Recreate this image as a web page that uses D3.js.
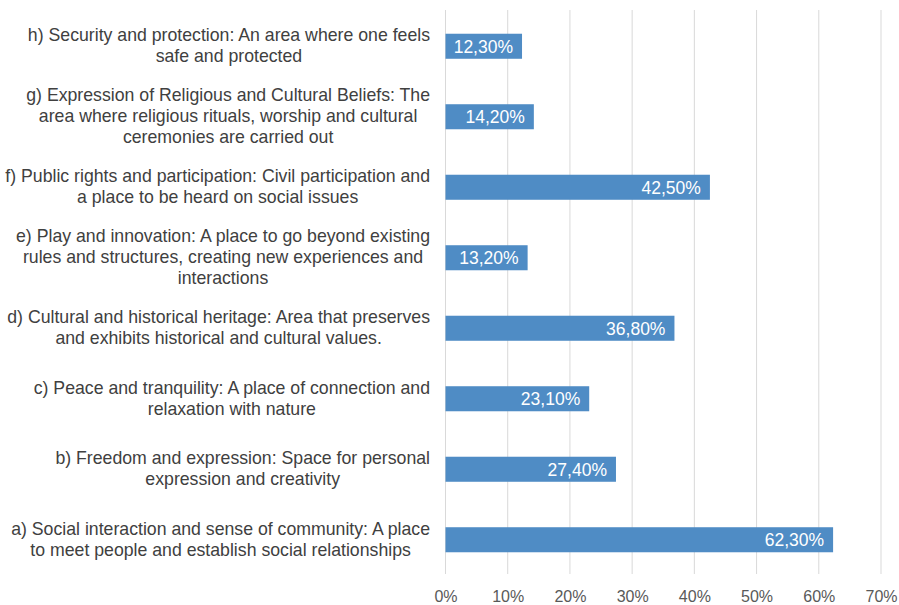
<!DOCTYPE html>
<html>
<head>
<meta charset="utf-8">
<script src="https://cdn.jsdelivr.net/npm/d3@7"></script>
<style>
  html, body { margin: 0; padding: 0; background: #ffffff; }
  svg { display: block; font-family: "Liberation Sans", Arial, sans-serif; }
</style>
</head>
<body>
<svg id="chart" width="899" height="605"></svg>
<script>
// Category labels, top to bottom, already broken into lines
const categories = [
  ["h) Security and protection: An area where one feels", "safe and protected"],
  ["g) Expression of Religious and Cultural Beliefs: The", "area where religious rituals, worship and cultural", "ceremonies are carried out"],
  ["f) Public rights and participation: Civil participation and", "a place to be heard on social issues"],
  ["e) Play and innovation: A place to go beyond existing", "rules and structures, creating new experiences and", "interactions"],
  ["d) Cultural and historical heritage: Area that preserves", "and exhibits historical and cultural values."],
  ["c) Peace and tranquility: A place of connection and", "relaxation with nature"],
  ["b) Freedom and expression: Space for personal", "expression and creativity"],
  ["a) Social interaction and sense of community: A place", "to meet people and establish social relationships"]
];
// Share of respondents (%)
const values = [12.3, 14.2, 42.5, 13.2, 36.8, 23.1, 27.4, 62.3];
const xTicks = [0, 10, 20, 30, 40, 50, 60, 70];

const svg = d3.select("#chart");
const margin = { left: 445.5, right: 18, top: 11, bottom: 30 };
const W = 899, H = 605;

const x = d3.scaleLinear().domain([0, 70]).range([margin.left, W - margin.right]);
const y = d3.scaleBand().domain(d3.range(categories.length))
  .range([margin.top, H - margin.bottom]).paddingInner(0.645).paddingOuter(0.3225);

const fmt = v => v.toFixed(2).replace(".", ",") + "%";

// Vertical gridlines
svg.append("g").selectAll("line").data(xTicks).join("line")
  .attr("x1", d => x(d)).attr("x2", d => x(d))
  .attr("y1", 10).attr("y2", 574)
  .attr("stroke", "#d9d9d9").attr("stroke-width", 1);

// Tick labels along the bottom
const xAxis = d3.axisBottom(x).tickValues(xTicks).tickSize(0).tickPadding(0).tickFormat(d => d + "%");
const ax = svg.append("g").attr("transform", `translate(0,${H - 14.5})`).call(xAxis);
ax.select(".domain").remove();
ax.selectAll("text").attr("font-size", 16).attr("fill", "#595959")
  .attr("font-family", "Liberation Sans, Arial, sans-serif").attr("dy", "0.71em");

// Bars
svg.append("g").selectAll("rect").data(values).join("rect")
  .attr("x", x(0)).attr("y", (d, i) => y(i))
  .attr("width", d => x(d) - x(0)).attr("height", y.bandwidth())
  .attr("fill", "#4f8cc5");

// Value labels inside the bar end
svg.append("g").selectAll("text").data(values).join("text")
  .attr("x", d => x(d) - 9).attr("y", (d, i) => y(i) + y.bandwidth() / 2)
  .attr("dy", "0.36em").attr("text-anchor", "end")
  .attr("font-size", 17.5).attr("fill", "#ffffff")
  .text(d => fmt(d));

// Category labels: centered multi-line blocks, right edge aligned near the axis
const labelRight = 430, lineH = 21;
const lg = svg.append("g");
categories.forEach((lines, i) => {
  const t = lg.append("text").attr("font-size", 17.7).attr("fill", "#404040").attr("text-anchor", "middle");
  const cy = y(i) + y.bandwidth() / 2 - 1;
  const y0 = cy - (lines.length - 1) * lineH / 2;
  const spans = lines.map((s, k) => t.append("tspan").attr("y", y0 + k * lineH).attr("dy", "0.36em").text(s));
  const maxW = d3.max(spans, s => s.node().getComputedTextLength());
  spans.forEach(s => s.attr("x", labelRight - maxW / 2));
});
</script>
</body>
</html>
